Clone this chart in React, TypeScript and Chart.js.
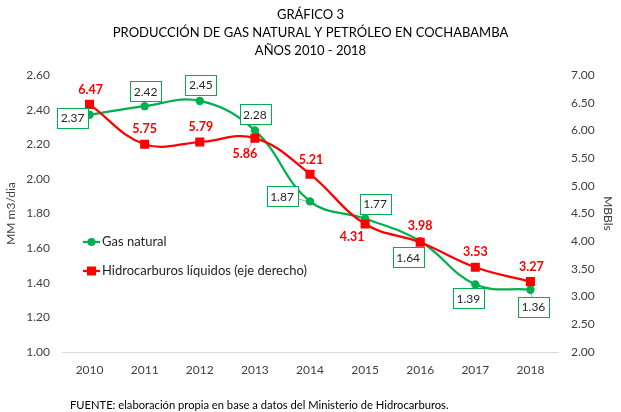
import React, { useEffect, useRef } from 'react';
import { Chart, registerables } from 'chart.js';

Chart.register(...registerables);

// ---- data ----
const years = ['2010', '2011', '2012', '2013', '2014', '2015', '2016', '2017', '2018'];
const gasNatural = [2.37, 2.42, 2.45, 2.28, 1.87, 1.77, 1.64, 1.39, 1.36];
const hidrocarburos = [6.47, 5.75, 5.79, 5.86, 5.21, 4.31, 3.98, 3.53, 3.27];
const leftAxis = { min: 1.0, max: 2.6, step: 0.2 };
const rightAxis = { min: 2.0, max: 7.0, step: 0.5 };
const titleLines = ['GRÁFICO 3', 'PRODUCCIÓN DE GAS NATURAL Y PETRÓLEO EN COCHABAMBA', 'AÑOS 2010 - 2018'];
const seriesNames = ['Gas natural', 'Hidrocarburos líquidos (eje derecho)'];
const leftTitle = 'MM m3/dia';
const rightTitle = 'MBBls';
const footerText = 'FUENTE: elaboración propia en base a datos del Ministerio de Hidrocarburos.';

// ---- label placement (style, not data) ----
const gasLabelOffsets = [[-17, 3], [1, -15], [1, -16], [0, -16], [-28, -5], [10, -15], [-12, 16], [-7, 14], [3, 17]];
const gasLeader = [false, false, false, false, true, true, true, false, true];
const oilLabelOffsets = [[1, -14], [0, -15], [1, -15], [-10, 16], [1, -14], [-13, 13], [0, -16], [0, -15], [1, -15]];
const oilLeader = [false, false, false, true, false, false, false, false, false];

const GREEN = '#00B050';
const RED = '#FF0000';
const FONT = 'Lato';

const overlayPlugin = {
  id: 'overlay',
  beforeDatasetsDraw(chart: any) {
    const ctx = chart.ctx;
    ctx.save();
    ctx.strokeStyle = '#A6A6A6';
    ctx.lineWidth = 1;
    const draw = (dsIndex: number, offsets: number[][], leaders: boolean[]) => {
      const meta = chart.getDatasetMeta(dsIndex);
      meta.data.forEach((pt: any, i: number) => {
        if (!leaders[i]) return;
        ctx.beginPath();
        ctx.moveTo(pt.x, pt.y);
        ctx.lineTo(pt.x + offsets[i][0], pt.y + offsets[i][1]);
        ctx.stroke();
      });
    };
    draw(0, oilLabelOffsets, oilLeader);
    draw(1, gasLabelOffsets, gasLeader);
    ctx.restore();
  },
  afterDatasetsDraw(chart: any) {
    const ctx = chart.ctx;
    ctx.save();
    // gas labels (boxed)
    const gasMeta = chart.getDatasetMeta(1);
    ctx.font = `12px ${FONT}`;
    ctx.textAlign = 'center';
    ctx.textBaseline = 'middle';
    gasMeta.data.forEach((pt: any, i: number) => {
      const txt = gasNatural[i].toFixed(2);
      const cx = pt.x + gasLabelOffsets[i][0];
      const cy = pt.y + gasLabelOffsets[i][1];
      const w = ctx.measureText(txt).width + 7;
      const h = 20;
      ctx.fillStyle = '#FFFFFF';
      ctx.fillRect(Math.round(cx - w / 2), Math.round(cy - h / 2), Math.round(w), h);
      ctx.strokeStyle = GREEN;
      ctx.lineWidth = 1;
      ctx.strokeRect(Math.round(cx - w / 2) + 0.5, Math.round(cy - h / 2) + 0.5, Math.round(w), h);
      ctx.fillStyle = '#262626';
      ctx.fillText(txt, cx, cy + 0.5);
    });
    // oil labels (bold red)
    const oilMeta = chart.getDatasetMeta(0);
    ctx.font = `bold 12.5px ${FONT}`;
    ctx.fillStyle = RED;
    oilMeta.data.forEach((pt: any, i: number) => {
      const txt = hidrocarburos[i].toFixed(2);
      ctx.fillText(txt, pt.x + oilLabelOffsets[i][0], pt.y + oilLabelOffsets[i][1]);
    });

    // legend
    const lx = 83;
    const items = [
      { y: 242, color: GREEN, shape: 'circle', text: seriesNames[0] },
      { y: 271, color: RED, shape: 'rect', text: seriesNames[1] },
    ];
    items.forEach((it) => {
      ctx.strokeStyle = it.color;
      ctx.fillStyle = it.color;
      ctx.lineWidth = 2.25;
      ctx.beginPath();
      ctx.moveTo(lx, it.y);
      ctx.lineTo(lx + 17, it.y);
      ctx.stroke();
      if (it.shape === 'circle') {
        ctx.beginPath();
        ctx.arc(lx + 8.5, it.y, 4, 0, Math.PI * 2);
        ctx.fill();
      } else {
        ctx.fillRect(lx + 4, it.y - 4.5, 9, 9);
      }
      ctx.fillStyle = '#262626';
      ctx.font = `13px ${FONT}`;
      ctx.textAlign = 'left';
      ctx.textBaseline = 'middle';
      ctx.fillText(it.text, lx + 19, it.y);
    });

    // titles
    ctx.fillStyle = '#000000';
    ctx.font = `13px ${FONT}`;
    ctx.textAlign = 'center';
    ctx.textBaseline = 'middle';
    const ys = [15, 33, 51];
    titleLines.forEach((t, i) => ctx.fillText(t, chart.width / 2, ys[i]));

    // footer
    ctx.font = `11.2px ${FONT}`;
    ctx.textAlign = 'left';
    ctx.fillText(footerText, 70, 405);
    ctx.restore();
  },
};

export default function App() {
  const ref = useRef<HTMLCanvasElement | null>(null);
  useEffect(() => {
    document.body.style.margin = '0';
    if (!ref.current) return;
    const tickFont = { family: FONT, size: 12 };
    const chart = new Chart(ref.current, {
      type: 'line',
      data: {
        labels: years,
        datasets: [
          {
            label: seriesNames[1],
            data: hidrocarburos,
            yAxisID: 'y1',
            borderColor: RED,
            backgroundColor: RED,
            borderWidth: 2.25,
            pointStyle: 'rect',
            pointRadius: 6.4,
            pointBackgroundColor: RED,
            pointBorderColor: RED,
            pointBorderWidth: 0,
            tension: 0.4,
            order: 0,
          },
          {
            label: seriesNames[0],
            data: gasNatural,
            yAxisID: 'y',
            borderColor: GREEN,
            backgroundColor: GREEN,
            borderWidth: 2.25,
            pointStyle: 'circle',
            pointRadius: 4.2,
            pointBackgroundColor: GREEN,
            pointBorderColor: GREEN,
            pointBorderWidth: 0,
            tension: 0.4,
            order: 1,
          },
        ],
      },
      options: {
        responsive: false,
        animation: false,
        devicePixelRatio: 1,
        layout: { padding: { top: 75, bottom: 30, left: 0, right: 0 } },
        plugins: {
          legend: { display: false },
          title: { display: false },
          tooltip: { enabled: false },
        },
        scales: {
          x: {
            offset: true,
            grid: { display: false, drawTicks: false },
            border: { display: true, color: '#D9D9D9', width: 1 },
            ticks: { font: tickFont, color: '#404040', padding: 11 },
            afterFit: (s: any) => { s.height = 30; },
          },
          y: {
            position: 'left',
            min: leftAxis.min,
            max: leftAxis.max,
            grid: { display: false, drawTicks: false },
            border: { display: false },
            ticks: {
              stepSize: leftAxis.step,
              font: tickFont,
              color: '#404040',
              padding: 12,
              callback: (v: any) => Number(v).toFixed(2),
            },
            title: { display: true, text: leftTitle, font: tickFont, color: '#404040', padding: { top: 4, bottom: 0 } },
            afterFit: (s: any) => { s.width = 62; },
          },
          y1: {
            position: 'right',
            min: rightAxis.min,
            max: rightAxis.max,
            grid: { display: false, drawTicks: false },
            border: { display: false },
            ticks: {
              stepSize: rightAxis.step,
              font: tickFont,
              color: '#404040',
              padding: 13,
              callback: (v: any) => Number(v).toFixed(2),
            },
            title: { display: true, text: rightTitle, font: tickFont, color: '#404040', padding: { top: 6, bottom: 0 } },
            afterFit: (s: any) => { s.width = 63; },
          },
        },
      },
      plugins: [overlayPlugin],
    } as any);
    return () => chart.destroy();
  }, []);
  return (
    <div style={{ width: 621, height: 412, background: '#fff' }}>
      <canvas ref={ref} width={621} height={412} />
    </div>
  );
}
